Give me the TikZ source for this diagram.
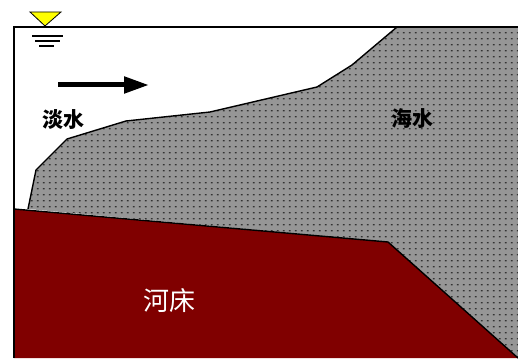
\documentclass[tikz,border=0pt]{standalone}
\usepackage{fontspec}
\newfontfamily\cjk{Noto Sans CJK SC}
\usetikzlibrary{arrows.meta, patterns.meta}
\definecolor{bedred}{RGB}{128,0,0}
\definecolor{seagray}{RGB}{150,150,150}
\definecolor{levelyellow}{RGB}{255,255,0}
% small dash texture for the salt water
\pgfdeclarepattern{
  name=seadash, type=uncolored,
  bottom left={\pgfpoint{0pt}{0pt}}, top right={\pgfpoint{6pt}{6pt}},
  tile size={\pgfpoint{6pt}{6pt}},
  code={\pgfpathrectangle{\pgfpoint{1pt}{2pt}}{\pgfpoint{2pt}{1.2pt}}\pgfusepath{fill}}
}
\tikzset{
  outline/.style={draw=black, line width=1.4pt, line join=round},
  label/.style={font=\cjk\fontsize{21}{21}\selectfont\bfseries, inner sep=0pt},
  bedlabel/.style={font=\cjk\fontsize{26}{26}\selectfont, text=white, inner sep=0pt},
}
\begin{document}
\begin{tikzpicture}[x=1pt, y=-1pt]
  \useasboundingbox (0,0) rectangle (518,358);
  % interface and bed geometry
  \coordinate (i0) at (28,209);
  \coordinate (i1) at (36,170);
  \coordinate (i2) at (67,139);
  \coordinate (i3) at (126,121);
  \coordinate (i4) at (210,112);
  \coordinate (i5) at (317,87);
  \coordinate (i6) at (352,65);
  \coordinate (i7) at (397,27);
  \coordinate (tl) at (14,27);
  \coordinate (tr) at (518,27);
  \coordinate (br) at (518,358);
  \coordinate (bl) at (14,358);
  \coordinate (b0) at (14,209);
  \coordinate (b1) at (388,242);
  % salt water wedge
  \fill[seagray] (i0) -- (i1) -- (i2) -- (i3) -- (i4) -- (i5) -- (i6) -- (i7)
     -- (tr) -- (br) -- (b1) -- cycle;
  \fill[pattern=seadash, pattern color=black!80] (i0) -- (i1) -- (i2) -- (i3) -- (i4) -- (i5) -- (i6) -- (i7)
     -- (tr) -- (br) -- (b1) -- cycle;
  \draw[outline] (i0) -- (i1) -- (i2) -- (i3) -- (i4) -- (i5) -- (i6) -- (i7);
  % river bed
  \fill[bedred] (b0) -- (b1) -- (br) -- (bl) -- cycle;
  \draw[outline] (b0) -- (b1) -- (br);
  % channel frame
  \draw[black, line width=1.6pt] (bl) -- (tl) -- (tr);
  % water level mark
  \coordinate (wl) at (45,26);
  \draw[black, line width=0.8pt, fill=levelyellow, line join=miter]
     (30,12) -- (61,12) -- (wl) -- cycle;
  \coordinate (w1a) at (32,36); \coordinate (w1b) at (63,36);
  \coordinate (w2a) at (35,41); \coordinate (w2b) at (60,41);
  \coordinate (w3a) at (39,46); \coordinate (w3b) at (54,46);
  \draw[black, line width=1.2pt] (w1a) -- (w1b) (w2a) -- (w2b) (w3a) -- (w3b);
  % flow direction
  \coordinate (fa) at (58,85);
  \coordinate (fb) at (149,85);
  \draw[black, line width=5pt, -{Triangle[length=25pt, width=16pt]}] (fa) -- (fb);
  % labels
  \node[label] (fresh) at (63,120) {淡水};
  \node[label] (sea) at (412,119) {海水};
  \node[bedlabel] (bed) at (169,301) {河床};
\end{tikzpicture}
\end{document}
